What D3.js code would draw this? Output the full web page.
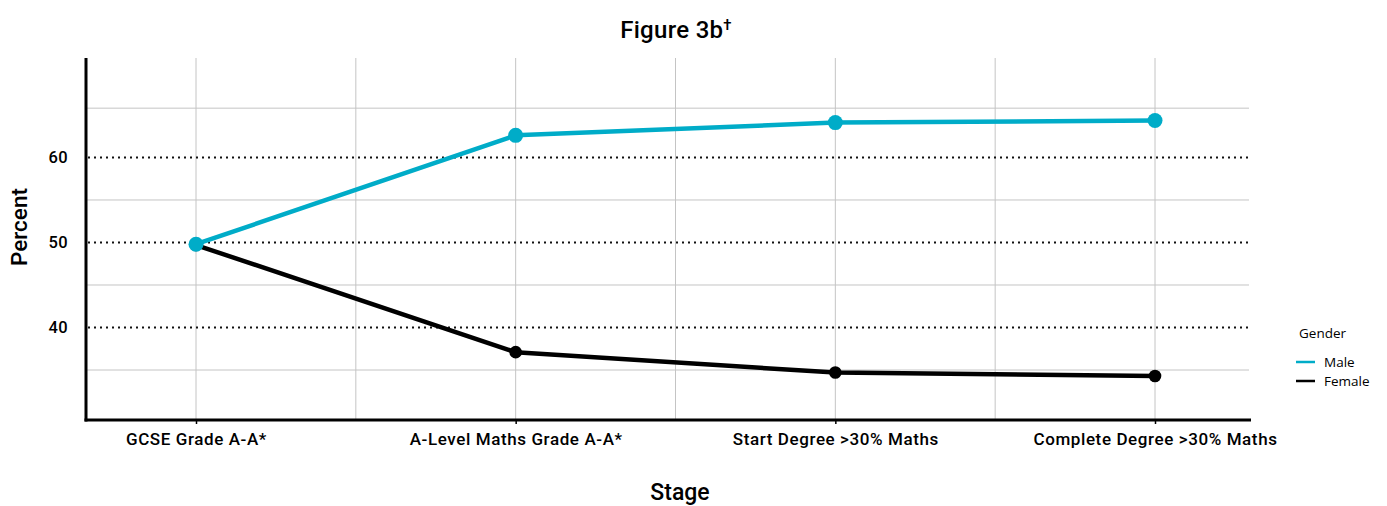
<!DOCTYPE html>
<html><head><meta charset="utf-8">
<script src="https://cdn.jsdelivr.net/npm/d3@7"></script>
<style>
body{margin:0;background:#fff;}
text{fill:#000;}
</style></head>
<body><svg id="c" width="1387" height="506" font-family="Roboto, sans-serif"></svg>
<script>
const stages = ["GCSE Grade A-A*", "A-Level Maths Grade A-A*", "Start Degree >30% Maths", "Complete Degree >30% Maths"];
const male = [49.8, 62.6, 64.1, 64.35];
const female = [49.7, 37.1, 34.7, 34.3];
const yTicks = [40, 50, 60];
const yMinor = [35, 45, 55, 65.8];
const seriesNames = ["Male", "Female"];
const colors = ["#00acc8", "#000000"];

const svg = d3.select("#c");
const L = 86, R = 1250, T = 58, B = 420;
const x = d3.scalePoint().domain(stages).range([196, 1155]);
const step = x.step();
const y = d3.scaleLinear().domain([29.12, 71.7]).range([B, T]);

// vertical grid (major + minor)
const vgrid = [];
stages.forEach((s, i) => { vgrid.push(x(s)); if (i < stages.length - 1) vgrid.push(x(s) + step / 2); });
svg.append("g").selectAll("line").data(vgrid).join("line")
  .attr("x1", d => d).attr("x2", d => d).attr("y1", T).attr("y2", B)
  .attr("stroke", "#c4c4c4").attr("stroke-width", 1);
svg.append("g").selectAll("line").data(yMinor).join("line")
  .attr("x1", L).attr("x2", R - 1).attr("y1", d => y(d)).attr("y2", d => y(d))
  .attr("stroke", "#c4c4c4").attr("stroke-width", 1);
svg.append("g").selectAll("line").data(yTicks).join("line")
  .attr("x1", L + 2).attr("x2", R + 2).attr("y1", d => y(d)).attr("y2", d => y(d))
  .attr("stroke", "#111").attr("stroke-width", 2).attr("stroke-dasharray", "2,4");

// axes
const xa = svg.append("g").attr("transform", `translate(0,${B})`)
  .call(d3.axisBottom(x).tickSize(4).tickPadding(7));
xa.select(".domain").remove();
xa.selectAll(".tick line").attr("stroke", "#000").attr("stroke-width", 1.5);
xa.selectAll("text").style("font-family", "Roboto, sans-serif").style("font-size", "17px")
  .style("font-weight", 500).style("letter-spacing", "0.6px").attr("dy", "0.8em");
svg.append("line").attr("x1", L - 1.5).attr("x2", R + 1).attr("y1", B).attr("y2", B)
  .attr("stroke", "#000").attr("stroke-width", 3);

const ya = svg.append("g").attr("transform", `translate(${L},0)`)
  .call(d3.axisLeft(y).tickValues(yTicks).tickSize(0).tickPadding(18));
ya.select(".domain").remove();
ya.selectAll("text").style("font-family", "Roboto, sans-serif").style("font-size", "16.5px")
  .style("font-weight", 500).style("letter-spacing", "0.4px");
svg.append("line").attr("x1", L).attr("x2", L).attr("y1", T).attr("y2", B + 1.5)
  .attr("stroke", "#000").attr("stroke-width", 3);

// series
const data = [male, female];
const line = d3.line().x((d, i) => x(stages[i])).y(d => y(d));
[1, 0].forEach(k => {
  svg.append("path").datum(data[k]).attr("d", line).attr("fill", "none")
    .attr("stroke", colors[k]).attr("stroke-width", 4.5).attr("stroke-linejoin", "round");
  svg.append("g").selectAll("circle").data(data[k]).join("circle")
    .attr("cx", (d, i) => x(stages[i])).attr("cy", d => y(d))
    .attr("r", k === 0 ? 7.5 : 6.3).attr("fill", colors[k]);
});

// titles
const tt = svg.append("text").attr("x", 676).attr("y", 38).attr("text-anchor", "middle")
  .style("font-family", "Roboto, sans-serif").style("font-size", "24px").style("font-weight", 500)
  .style("letter-spacing", "0.3px");
tt.append("tspan").text("Figure 3b");
tt.append("tspan").style("font-size", "15px").attr("dy", -8).text("†");
svg.append("text").attr("x", 680).attr("y", 500).attr("text-anchor", "middle")
  .style("font-family", "Roboto, sans-serif").style("font-size", "23px").style("font-weight", 500).text("Stage");
svg.append("text").attr("transform", "translate(27,227) rotate(-90)").attr("text-anchor", "middle")
  .style("font-family", "Roboto, sans-serif").style("font-size", "22.5px").style("font-weight", 500).text("Percent");

// legend
const lg = svg.append("g").style("font-family", "'Open Sans', sans-serif");
lg.append("text").attr("x", 1299).attr("y", 338).style("font-size", "13.5px").text("Gender");
seriesNames.forEach((n, i) => {
  const yy = 362 + i * 19;
  lg.append("line").attr("x1", 1296).attr("x2", 1315).attr("y1", yy).attr("y2", yy)
    .attr("stroke", colors[i]).attr("stroke-width", 2.5);
  lg.append("text").attr("x", 1324).attr("y", yy + 5).style("font-size", "13.5px").text(n);
});
</script></body></html>
